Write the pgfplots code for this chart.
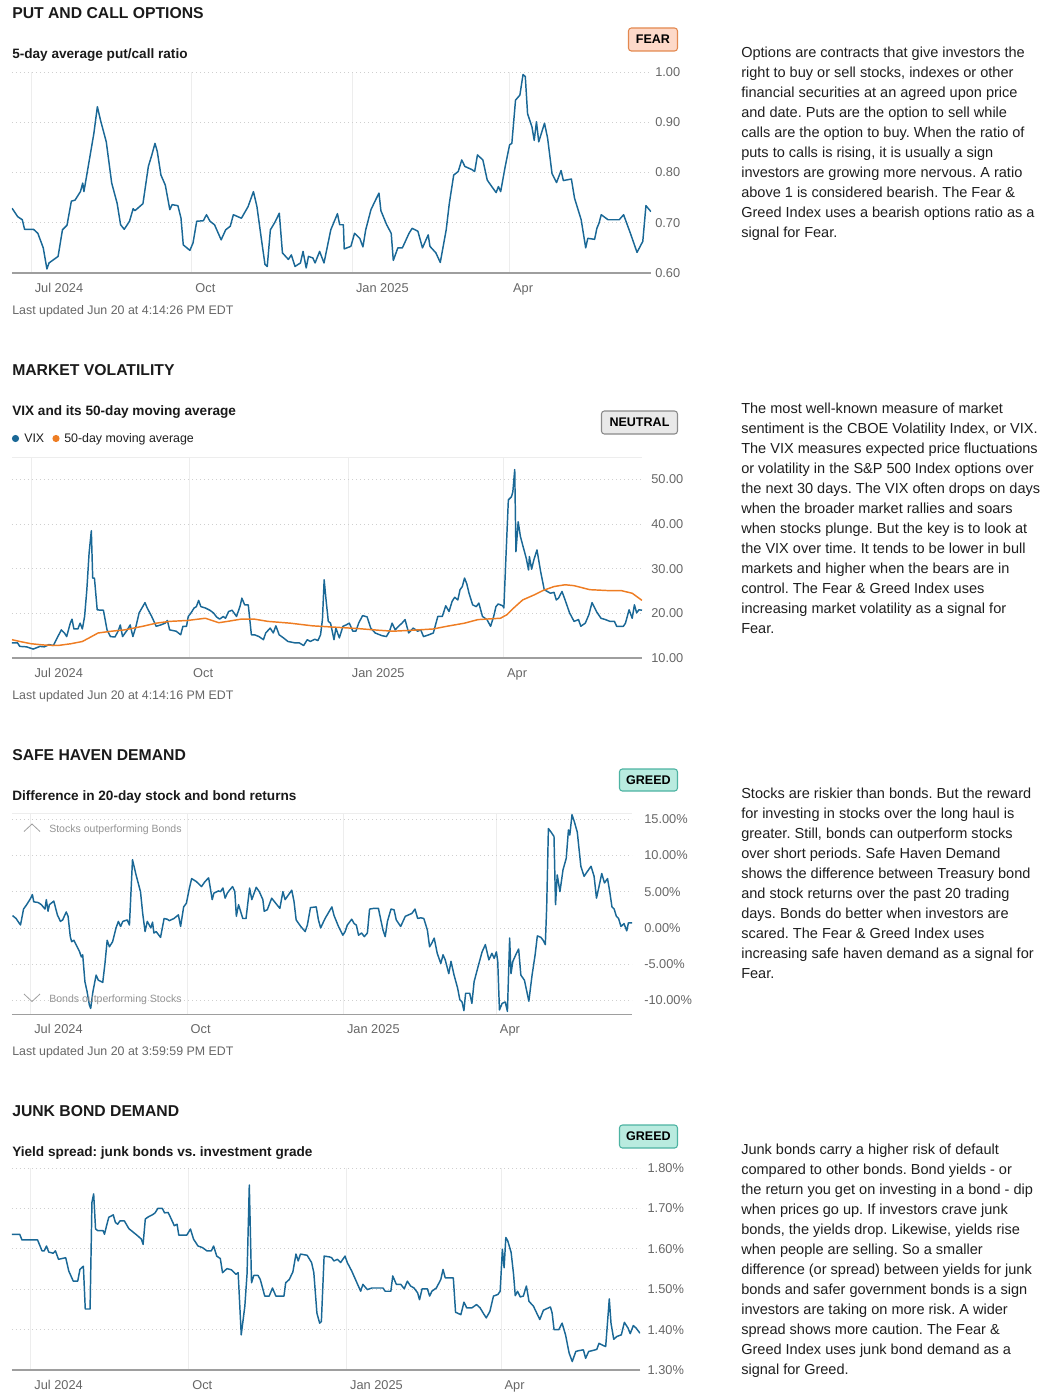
\documentclass[border=0pt]{standalone}
\usepackage{fontspec}
\setmainfont{Liberation Sans}
\usepackage{pgfplots}
\pgfplotsset{compat=1.18}
\frenchspacing
\definecolor{lineblue}{HTML}{1A6896}
\definecolor{lineorange}{HTML}{EE7D23}
\definecolor{tickgray}{HTML}{666666}
\definecolor{gridgray}{HTML}{CFCFCF}
\definecolor{vgrid}{HTML}{EDEDED}
\definecolor{axisgray}{HTML}{9E9E9E}
\definecolor{titlecol}{HTML}{1A1A1A}
\definecolor{desccol}{HTML}{1E1E1E}
\definecolor{fearfill}{HTML}{FDD9C9}
\definecolor{fearborder}{HTML}{E3884F}
\definecolor{neutralfill}{HTML}{E9E9E9}
\definecolor{neutralborder}{HTML}{8A8A8A}
\definecolor{greedfill}{HTML}{B9EBDF}
\definecolor{greedborder}{HTML}{4DB3A2}
\newcommand\titlefont{\fontsize{11.8}{14}\selectfont\bfseries}
\newcommand\subfont{\fontsize{10.2}{12}\selectfont\bfseries}
\newcommand\descfont{\fontsize{10.9}{13}\selectfont}
\newcommand\smallgray{\fontsize{9.3}{11}\selectfont}
\newcommand\badgefont{\fontsize{9.4}{11}\selectfont\bfseries}
\newcommand\desc[2]{\foreach \t [count=\i from 0] in {#2} {\node[anchor=base west,inner sep=0pt,font=\descfont,text=desccol] at (741,{#1+20*\i}) {\t};}}
\pgfplotsset{
  blueline/.style={color=lineblue, line width=1.1pt, line join=round, mark=none},
  orangeline/.style={color=lineorange, line width=1.1pt, line join=round, mark=none},
  fg/.style={
  scale only axis, anchor=south west, xmin=0,
  axis x line*=bottom, axis y line*=right,
  y axis line style={draw=none},
  x axis line style={draw=axisgray, line width=0.8pt},
  major tick length=0pt,
  xtick={11,103,195,285}, xticklabels={Jul 2024,Oct,Jan 2025,Apr},
  xmajorgrids, ymajorgrids,
  x grid style={draw=vgrid, line width=0.6pt},
  y grid style={draw=gridgray, dash pattern=on 1.1pt off 1.9pt, line width=0.6pt},
  /pgf/number format/assume math mode=true,
  ticklabel style={font=\fontsize{9.6}{11}\selectfont, text=tickgray},
  xticklabel style={anchor=base west, inner sep=0pt, xshift=2.5pt, yshift=-14.25pt},
  yticklabel style={anchor=west, inner sep=0pt, xshift=3pt},
}}
\begin{document}
\begin{tikzpicture}
\path[use as bounding box] (0,0) rectangle (782.25pt,-1048.5pt);
% ---------------- Panel 1
\begin{axis}[fg, at={(9pt,-204.75pt)}, width=479.25pt, height=150.75pt,
  xmax=366, ymin=0.6, ymax=1.0,
  ytick={0.6,0.7,0.8,0.9,1.0}, yticklabels={0.60,0.70,0.80,0.90,1.00}]
\addplot[blueline] coordinates {(0,0.729)(3.3,0.712)(5.9,0.706)(7.2,0.687)(12.3,0.687)(14.8,0.679)(17.9,0.650)(20.0,0.608)(21.2,0.620)(26.4,0.633)(28.9,0.686)(31.5,0.695)(34.0,0.743)(36.1,0.745)(39.2,0.762)(40.5,0.779)(41.2,0.762)(44.3,0.825)(46.9,0.878)(48.9,0.931)(50.7,0.904)(54.0,0.861)(57.1,0.779)(60.2,0.739)(62.2,0.696)(64.3,0.687)(67.3,0.703)(69.4,0.728)(70.4,0.724)(73.7,0.734)(75.0,0.738)(78.1,0.812)(80.1,0.835)(81.9,0.858)(83.2,0.842)(85.3,0.795)(87.8,0.775)(90.4,0.726)(91.7,0.736)(95.0,0.734)(96.8,0.709)(98.1,0.656)(101.9,0.645)(103.7,0.660)(105.8,0.703)(109.6,0.704)(111.4,0.716)(113.4,0.703)(116.0,0.696)(119.8,0.666)(122.4,0.686)(125.0,0.693)(126.8,0.716)(131.4,0.709)(135.2,0.732)(138.3,0.762)(140.3,0.732)(142.9,0.666)(144.9,0.617)(146.2,0.613)(148.0,0.686)(150.6,0.701)(153.1,0.719)(154.9,0.640)(158.3,0.627)(160.0,0.636)(162.1,0.613)(165.2,0.620)(166.7,0.643)(168.5,0.610)(169.8,0.633)(172.3,0.630)(173.6,0.620)(176.2,0.643)(178.7,0.620)(182.6,0.686)(186.4,0.718)(187.7,0.696)(189.8,0.696)(190.3,0.648)(194.1,0.653)(196.2,0.679)(199.2,0.669)(201.0,0.652)(202.6,0.686)(205.6,0.726)(208.2,0.745)(210.2,0.759)(211.3,0.724)(214.6,0.696)(217.2,0.679)(218.4,0.625)(221.0,0.650)(223.6,0.650)(227.4,0.679)(229.2,0.689)(232.5,0.683)(235.1,0.650)(238.4,0.676)(239.4,0.653)(242.8,0.640)(245.3,0.621)(248.7,0.686)(250.5,0.739)(253.0,0.795)(255.6,0.802)(257.6,0.825)(259.4,0.812)(263.3,0.806)(265.0,0.802)(266.6,0.835)(269.7,0.825)(272.2,0.785)(274.8,0.772)(277.3,0.760)(278.6,0.772)(279.9,0.762)(282.5,0.812)(285.0,0.855)(286.3,0.858)(288.4,0.944)(290.9,0.954)(292.7,0.995)(294.0,0.991)(295.3,0.917)(297.8,0.891)(299.1,0.864)(300.4,0.901)(301.7,0.861)(305.0,0.898)(306.8,0.868)(309.3,0.798)(311.9,0.780)(314.5,0.804)(315.8,0.784)(320.4,0.787)(322.2,0.749)(326.0,0.706)(328.6,0.650)(329.8,0.669)(333.7,0.667)(335.0,0.689)(336.2,0.699)(337.5,0.716)(341.4,0.706)(343.9,0.706)(347.8,0.706)(350.3,0.716)(354.2,0.679)(358.0,0.641)(361.3,0.663)(363.1,0.734)(366.0,0.722)};
\end{axis}
% ---------------- Panel 2
\begin{axis}[fg, at={(9pt,-493.5pt)}, width=472.5pt, height=150.75pt,
  xmax=365.3, ymin=10, ymax=55,
  ytick={10,20,30,40,50}, yticklabels={10.00,20.00,30.00,40.00,50.00},
  yticklabel style={xshift=3.75pt}]
\draw[vgrid, line width=0.6pt] (rel axis cs:0,1) -- (rel axis cs:1,1);
\addplot[blueline] coordinates {(0,13.4)(3.2,13.4)(4.5,12.6)(8.4,12.5)(12.3,12.0)(16.2,12.6)(18.8,12.5)(21.4,13.0)(24.0,12.8)(26.6,14.8)(28.6,16.3)(30.4,15.6)(31.7,14.8)(33.8,17.8)(34.8,18.7)(35.9,16.5)(38.2,16.5)(39.5,17.8)(40.8,16.5)(42.1,19.3)(43.4,25.3)(44.7,33.5)(46.0,38.5)(46.8,27.9)(47.8,27.9)(49.4,20.8)(51.2,20.7)(53.0,20.7)(55.1,16.3)(57.1,14.8)(59.7,14.7)(61.5,16.0)(62.8,17.4)(64.1,14.8)(66.7,16.2)(68.5,17.4)(70.1,14.8)(71.9,17.1)(73.7,20.1)(75.8,21.5)(77.1,22.4)(78.4,21.2)(81.0,19.3)(83.6,17.1)(86.2,17.4)(88.8,17.8)(90.1,18.4)(91.4,16.3)(95.2,16.0)(97.8,15.2)(99.1,17.1)(101.2,17.1)(102.2,19.3)(103.8,20.1)(105.6,21.2)(106.9,21.5)(108.2,22.9)(109.5,21.5)(112.1,21.2)(114.7,20.7)(116.8,20.1)(118.6,19.2)(120.4,18.7)(122.5,19.3)(123.8,18.9)(125.6,20.4)(127.6,20.7)(130.2,19.3)(132.3,21.7)(133.3,23.4)(134.9,21.9)(137.0,21.9)(138.8,15.2)(140.6,15.2)(143.2,14.8)(145.8,14.1)(147.1,15.6)(149.7,16.7)(151.5,15.6)(153.0,17.2)(154.9,15.2)(157.4,14.5)(160.0,13.7)(163.9,13.4)(166.5,13.4)(169.1,12.8)(171.2,14.1)(173.0,13.7)(175.6,14.2)(177.4,13.9)(178.9,15.2)(180.0,18.6)(181.0,27.5)(182.1,23.0)(183.4,18.2)(184.7,17.8)(186.7,14.1)(187.8,16.7)(189.8,14.5)(191.9,17.1)(193.7,17.4)(195.6,17.8)(197.6,16.0)(199.4,16.0)(201.0,17.8)(203.3,19.5)(205.9,19.2)(208.0,16.7)(210.6,15.6)(214.5,15.0)(217.1,14.8)(218.9,16.0)(220.4,17.8)(222.2,16.3)(224.1,17.1)(226.1,17.8)(227.9,18.6)(230.0,15.6)(232.6,16.7)(235.2,16.0)(237.0,16.3)(238.6,14.8)(241.7,15.2)(244.3,15.6)(246.9,19.3)(249.5,19.3)(251.5,21.7)(253.4,20.4)(255.2,22.7)(256.7,23.6)(258.5,23.0)(259.8,25.3)(261.1,26.0)(262.4,27.9)(263.7,26.6)(265.0,24.5)(267.1,21.9)(269.2,21.5)(270.7,22.3)(272.8,19.3)(275.4,18.6)(277.5,17.1)(279.3,19.3)(280.6,21.5)(281.9,22.1)(284.5,21.7)(285.2,21.2)(286.5,33.5)(287.8,45.4)(289.6,46.1)(290.4,47.2)(291.5,52.2)(292.2,33.8)(293.5,40.5)(294.8,37.2)(296.1,35.3)(298.2,32.3)(299.5,29.7)(300.0,32.7)(301.3,29.9)(302.6,32.0)(304.4,34.2)(306.5,29.4)(308.6,25.3)(310.4,24.9)(312.2,24.5)(314.3,24.7)(315.6,23.0)(316.9,23.4)(318.9,24.9)(320.7,23.0)(323.3,20.1)(325.9,18.2)(328.5,18.6)(329.8,17.1)(332.4,17.8)(334.5,19.7)(336.3,22.4)(338.9,20.4)(341.5,18.9)(344.1,18.6)(346.7,18.2)(349.3,18.2)(350.6,17.1)(354.5,17.1)(355.7,17.8)(357.8,20.8)(359.6,18.9)(360.9,21.9)(362.2,20.1)(363.5,20.8)(365.3,20.7)};
\addplot[orangeline] coordinates {(0,14.1)(4.5,13.7)(11,13.2)(18.8,12.9)(26.6,12.8)(34.3,13.2)(40.8,13.7)(44.7,14.5)(49.9,15.6)(57.7,16.0)(65.4,16.3)(70.6,16.7)(75.8,17.1)(83.6,17.8)(91.4,18.2)(101.7,18.4)(112.1,18.9)(119.9,17.9)(125.0,18.2)(132.8,18.7)(140.6,18.7)(148.4,18.2)(161.3,17.8)(174.3,17.2)(187.3,16.9)(200.2,16.6)(213.2,16.2)(221.0,16.0)(231.3,16.2)(244.3,16.5)(252.1,17.1)(262.4,17.8)(270.2,18.6)(283.2,18.9)(287.0,19.7)(290.9,21.2)(296.1,23.0)(302.6,24.1)(307.8,25.1)(314.3,26.0)(320.7,26.4)(325.9,26.2)(335.0,25.3)(345.4,25.1)(353.1,25.1)(359.6,24.5)(365.3,22.9)};
\end{axis}
% ---------------- Panel 3
\begin{axis}[fg, at={(9pt,-760.7pt)}, width=465pt, height=150.75pt,
  xmax=364.8, ymin=-11.9, ymax=15.8,
  ytick={-10,-5,0,5,10,15}, yticklabels={-10.00\%,-5.00\%,0.00\%,5.00\%,10.00\%,15.00\%},
  yticklabel style={xshift=6pt}]
\draw[vgrid, line width=0.6pt] (rel axis cs:0,1) -- (rel axis cs:1,1);
\addplot[blueline] coordinates {(0.3,1.7)(2.4,1.3)(5.0,0.4)(6.8,2.6)(8.9,3.3)(11.0,4.1)(12.0,4.6)(12.8,3.6)(15.4,3.5)(17.3,3.2)(19.4,2.6)(20.2,3.9)(21.2,2.3)(22.0,3.2)(24.6,3.7)(26.7,1.8)(28.5,0.9)(29.8,1.1)(31.9,2.2)(33.0,1.6)(34.3,-1.2)(35.1,-1.9)(36.4,-1.7)(37.7,-2.3)(39.8,-3.3)(40.8,-4.0)(41.6,-3.7)(42.9,-7.4)(44.2,-8.8)(45.5,-10.6)(46.3,-11.1)(47.6,-8.8)(49.5,-6.5)(50.8,-7.2)(53.4,-7.5)(54.7,-4.9)(56.0,-1.7)(57.3,-2.6)(59.2,-1.9)(61.2,0.0)(62.6,0.9)(63.9,0.2)(65.2,0.9)(67.8,1.1)(69.1,0.4)(70.9,9.4)(73.0,7.3)(75.6,5.0)(76.9,2.0)(78.3,-0.5)(79.6,0.9)(81.7,0.0)(82.7,0.8)(83.5,-0.7)(84.8,-0.5)(87.4,-1.3)(89.5,1.3)(91.3,1.2)(92.6,1.0)(95.3,1.3)(97.9,1.8)(99.2,0.2)(101.0,2.9)(102.6,3.4)(104.4,5.5)(105.7,6.8)(108.4,6.4)(111.5,5.7)(113.6,6.4)(115.7,6.9)(117.8,3.9)(118.8,4.8)(121.4,5.1)(122.7,5.0)(124.1,5.5)(125.4,4.1)(126.7,4.8)(128.0,5.2)(129.8,5.7)(131.1,5.0)(132.0,1.6)(133.3,3.2)(135.8,1.3)(137.7,1.3)(139.8,5.5)(141.1,3.9)(143.7,5.6)(145.5,5.0)(147.6,3.9)(148.4,2.3)(150.2,2.5)(152.8,4.1)(155.5,3.3)(157.6,2.7)(159.4,5.0)(160.7,3.9)(162.8,4.6)(164.6,5.2)(165.9,3.7)(167.2,1.1)(169.9,0.2)(172.5,-0.5)(173.8,0.4)(175.6,2.8)(179.0,2.9)(180.3,1.1)(181.6,0.0)(184.2,1.3)(188.2,2.9)(189.5,1.7)(192.1,0.2)(194.7,-1.0)(196.0,-0.5)(197.3,0.4)(199.9,1.2)(201.3,0.6)(202.6,0.4)(203.9,-1.0)(205.7,-0.7)(207.3,-1.2)(209.1,-0.7)(210.4,2.6)(213.0,2.7)(215.6,2.7)(217.0,1.1)(218.3,-0.3)(219.6,-1.2)(220.9,0.9)(223.0,2.6)(224.8,2.5)(226.1,1.1)(228.7,0.2)(231.4,1.6)(235.3,2.0)(237.1,2.6)(238.7,1.3)(240.5,1.4)(242.3,1.3)(244.4,-0.3)(245.7,-2.6)(247.0,-2.1)(248.4,-1.4)(250.2,-3.5)(252.3,-4.9)(253.6,-3.7)(254.9,-4.4)(257.0,-6.3)(258.3,-4.6)(260.1,-6.5)(262.2,-8.3)(263.5,-9.9)(264.8,-10.2)(265.9,-11.4)(266.9,-9.0)(269.3,-9.0)(270.6,-10.4)(271.9,-7.4)(274.5,-5.1)(276.6,-3.3)(278.5,-2.3)(280.6,-4.4)(282.4,-3.5)(283.7,-4.2)(285.0,-3.3)(285.8,-4.6)(286.8,-11.3)(288.4,-10.4)(290.2,-10.2)(291.5,-11.5)(292.8,-1.4)(293.6,-6.3)(294.7,-4.6)(296.8,-3.5)(298.1,-2.9)(299.4,-6.5)(301.5,-7.2)(304.1,-10.1)(306.0,-6.5)(307.8,-3.7)(309.1,-1.1)(311.2,-1.3)(312.5,-1.7)(313.8,-2.3)(314.6,2.9)(315.6,13.7)(317.2,13.2)(318.9,12.6)(319.8,3.2)(320.8,7.3)(322.4,5.0)(324.2,8.0)(326.1,9.6)(327.4,13.5)(328.2,12.8)(329.5,15.6)(330.8,14.7)(332.6,13.2)(334.7,8.5)(336.6,7.1)(338.6,7.8)(340.7,8.5)(342.5,7.1)(343.9,4.1)(345.2,5.5)(347.0,7.5)(348.6,6.2)(350.4,6.8)(351.7,5.0)(353.0,2.9)(354.3,2.6)(355.6,1.6)(356.9,1.3)(358.3,0.2)(360.1,0.6)(361.7,-0.4)(362.7,0.7)(364.8,0.7)};
\end{axis}
% ---------------- Panel 4
\begin{axis}[fg, at={(9pt,-1027.5pt)}, width=471pt, height=151.5pt,
  xmax=366, ymin=1.3, ymax=1.8,
  ytick={1.3,1.4,1.5,1.6,1.7,1.8}, yticklabels={1.30\%,1.40\%,1.50\%,1.60\%,1.70\%,1.80\%},
  yticklabel style={xshift=2.5pt}]
\addplot[blueline] coordinates {(0,1.636)(4.5,1.636)(5.8,1.622)(14.9,1.622)(17.5,1.595)(18.8,1.595)(20.1,1.607)(21.4,1.592)(24.0,1.589)(25.3,1.595)(27.1,1.574)(29.2,1.576)(31.3,1.578)(33.1,1.545)(35.7,1.520)(38.3,1.520)(39.6,1.549)(41.6,1.557)(42.7,1.451)(45.5,1.451)(46.6,1.715)(47.6,1.736)(48.7,1.649)(50.0,1.645)(53.1,1.645)(53.9,1.636)(55.1,1.657)(56.4,1.678)(59.0,1.684)(60.3,1.665)(61.6,1.661)(62.9,1.669)(65.5,1.669)(68.1,1.650)(70.7,1.641)(73.3,1.632)(75.4,1.624)(76.4,1.611)(77.7,1.674)(79.8,1.680)(81.8,1.684)(83.4,1.689)(85.0,1.700)(87.6,1.700)(88.9,1.689)(91.0,1.690)(92.8,1.674)(94.6,1.657)(96.2,1.661)(97.2,1.634)(101.9,1.634)(104.0,1.649)(105.8,1.624)(108.4,1.607)(111.0,1.603)(113.6,1.595)(116.2,1.595)(117.5,1.607)(119.3,1.582)(121.4,1.576)(122.7,1.541)(125.3,1.551)(127.9,1.548)(130.5,1.537)(131.8,1.541)(133.6,1.387)(135.7,1.458)(137.0,1.539)(138.3,1.758)(139.6,1.516)(140.9,1.534)(143.4,1.534)(144.7,1.524)(147.3,1.483)(149.9,1.483)(151.8,1.503)(153.8,1.483)(158.5,1.483)(159.5,1.516)(161.6,1.524)(163.7,1.543)(165.5,1.587)(166.8,1.570)(168.1,1.587)(172.0,1.584)(174.6,1.566)(175.9,1.541)(177.7,1.441)(179.3,1.416)(180.3,1.420)(181.9,1.582)(185.0,1.580)(186.3,1.578)(187.6,1.570)(189.7,1.574)(191.5,1.566)(194.1,1.582)(195.4,1.566)(198.0,1.545)(200.6,1.520)(203.2,1.495)(204.5,1.512)(207.1,1.499)(209.7,1.503)(216.2,1.503)(217.5,1.495)(220.8,1.495)(221.9,1.533)(224.0,1.512)(226.6,1.512)(228.6,1.501)(230.4,1.520)(232.3,1.508)(234.3,1.503)(236.4,1.491)(237.5,1.474)(239.0,1.501)(242.1,1.501)(243.4,1.483)(244.7,1.495)(247.3,1.503)(249.9,1.524)(251.2,1.549)(252.5,1.528)(257.2,1.528)(258.5,1.443)(261.6,1.437)(263.4,1.468)(265.0,1.454)(268.1,1.454)(270.7,1.462)(272.8,1.454)(274.6,1.441)(276.4,1.429)(278.5,1.445)(280.6,1.483)(283.2,1.487)(284.5,1.495)(285.8,1.599)(286.8,1.553)(287.8,1.628)(288.9,1.620)(290.9,1.591)(292.3,1.537)(293.3,1.484)(294.6,1.495)(296.2,1.481)(298.0,1.483)(299.8,1.508)(301.3,1.470)(303.9,1.458)(305.8,1.441)(307.6,1.425)(309.7,1.448)(311.7,1.452)(313.8,1.456)(314.8,1.441)(315.9,1.400)(318.7,1.400)(320.6,1.416)(322.6,1.387)(324.7,1.342)(326.5,1.321)(328.6,1.346)(330.4,1.348)(333.0,1.350)(334.3,1.329)(336.1,1.346)(338.2,1.348)(340.8,1.351)(342.1,1.366)(343.9,1.362)(346.0,1.358)(348.1,1.476)(349.1,1.416)(350.7,1.376)(352.5,1.383)(355.1,1.387)(356.9,1.418)(359.0,1.404)(360.3,1.390)(362.1,1.410)(363.7,1.404)(366.0,1.391)};
\end{axis}
% ---------------- Text (pixel coordinates)
\begin{scope}[x=0.75pt,y=-0.75pt]
\node[anchor=base west,inner sep=0pt,font=\titlefont,text=titlecol] at (12,19) {PUT AND CALL OPTIONS};
\node[anchor=base west,inner sep=0pt,font=\subfont,text=titlecol] at (12,59) {5-day average put/call ratio};
\node[anchor=base west,inner sep=0pt,font=\smallgray,text=tickgray] at (12,314.3) {Last updated Jun 20 at 4:14:26 PM EDT};
\node[anchor=east,draw=fearborder,fill=fearfill,rounded corners=2.2pt,line width=0.8pt,minimum width=36.75pt,minimum height=17.25pt,inner sep=0pt,font=\badgefont] at (678,39.5) {FEAR};
\desc{57.3}{{Options are contracts that give investors the},{right to buy or sell stocks, indexes or other},{financial securities at an agreed upon price},{and date. Puts are the option to sell while},{calls are the option to buy. When the ratio of},{puts to calls is rising, it is usually a sign},{investors are growing more nervous. A ratio},{above 1 is considered bearish. The Fear \&},{Greed Index uses a bearish options ratio as a},{signal for Fear.}}
%
\node[anchor=base west,inner sep=0pt,font=\titlefont,text=titlecol] at (12,375) {MARKET VOLATILITY};
\node[anchor=base west,inner sep=0pt,font=\subfont,text=titlecol] at (12,415) {VIX and its 50-day moving average};
\fill[lineblue] (15.5,438.5) circle (2.7pt);
\node[anchor=base west,inner sep=0pt,font=\smallgray,text=desccol] at (24,442.5) {VIX};
\fill[lineorange] (56,438.5) circle (2.7pt);
\node[anchor=base west,inner sep=0pt,font=\smallgray,text=desccol] at (64,442.5) {50-day moving average};
\node[anchor=base west,inner sep=0pt,font=\smallgray,text=tickgray] at (12,699.5) {Last updated Jun 20 at 4:14:16 PM EDT};
\node[anchor=east,draw=neutralborder,fill=neutralfill,rounded corners=2.2pt,line width=0.8pt,minimum width=57pt,minimum height=17.25pt,inner sep=0pt,font=\badgefont] at (678,422.5) {NEUTRAL};
\desc{413.3}{{The most well-known measure of market},{sentiment is the CBOE Volatility Index, or VIX.},{The VIX measures expected price fluctuations},{or volatility in the S\&P 500 Index options over},{the next 30 days. The VIX often drops on days},{when the broader market rallies and soars},{when stocks plunge. But the key is to look at},{the VIX over time. It tends to be lower in bull},{markets and higher when the bears are in},{control. The Fear \& Greed Index uses},{increasing market volatility as a signal for},{Fear.}}
%
\node[anchor=base west,inner sep=0pt,font=\titlefont,text=titlecol] at (12,760) {SAFE HAVEN DEMAND};
\node[anchor=base west,inner sep=0pt,font=\subfont,text=titlecol] at (12,800) {Difference in 20-day stock and bond returns};
\node[anchor=base west,inner sep=0pt,font=\smallgray,text=tickgray] at (12,1055.5) {Last updated Jun 20 at 3:59:59 PM EDT};
\node[anchor=east,draw=greedborder,fill=greedfill,rounded corners=2.2pt,line width=0.8pt,minimum width=43.5pt,minimum height=16.5pt,inner sep=0pt,font=\badgefont] at (678,780) {GREED};
\draw[gray!75,line width=0.6pt] (24,831.5) -- (32,824) -- (40,831.5);
\node[anchor=base west,inner sep=0pt,font=\fontsize{7.9}{9}\selectfont,text=gray!85] at (49,832.3) {Stocks outperforming Bonds};
\draw[gray!75,line width=0.6pt] (24,994) -- (32,1001.5) -- (40,994);
\node[anchor=base west,inner sep=0pt,font=\fontsize{7.9}{9}\selectfont,text=gray!85] at (49,1002.3) {Bonds outperforming Stocks};
\desc{798.3}{{Stocks are riskier than bonds. But the reward},{for investing in stocks over the long haul is},{greater. Still, bonds can outperform stocks},{over short periods. Safe Haven Demand},{shows the difference between Treasury bond},{and stock returns over the past 20 trading},{days. Bonds do better when investors are},{scared. The Fear \& Greed Index uses},{increasing safe haven demand as a signal for},{Fear.}}
%
\node[anchor=base west,inner sep=0pt,font=\titlefont,text=titlecol] at (12,1116) {JUNK BOND DEMAND};
\node[anchor=base west,inner sep=0pt,font=\subfont,text=titlecol] at (12,1156) {Yield spread: junk bonds vs. investment grade};
\node[anchor=east,draw=greedborder,fill=greedfill,rounded corners=2.2pt,line width=0.8pt,minimum width=43.5pt,minimum height=17.25pt,inner sep=0pt,font=\badgefont] at (678,1136.5) {GREED};
\desc{1154.3}{{Junk bonds carry a higher risk of default},{compared to other bonds. Bond yields - or},{the return you get on investing in a bond - dip},{when prices go up. If investors crave junk},{bonds, the yields drop. Likewise, yields rise},{when people are selling. So a smaller},{difference (or spread) between yields for junk},{bonds and safer government bonds is a sign},{investors are taking on more risk. A wider},{spread shows more caution. The Fear \&},{Greed Index uses junk bond demand as a},{signal for Greed.}}
\end{scope}
\end{tikzpicture}
\end{document}
